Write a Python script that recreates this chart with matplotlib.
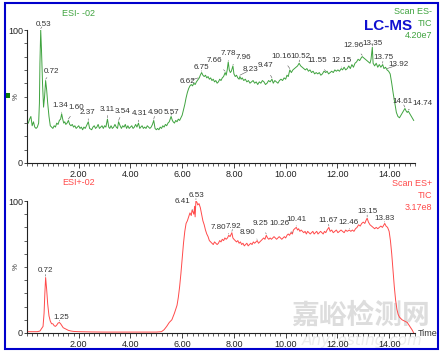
import numpy as np
import matplotlib
matplotlib.use("Agg")
import matplotlib.pyplot as plt
from matplotlib.ticker import MultipleLocator, FixedLocator, FuncFormatter
from matplotlib.patches import Rectangle

# ---------------- data ----------------
neg_t = [0.05, 0.10, 0.15, 0.20, 0.25, 0.30, 0.35, 0.40, 0.45, 0.48, 0.50, 0.53, 0.56, 0.60, 0.64, 0.68,
         0.72, 0.76, 0.80, 0.85, 0.90, 0.95, 1.00, 1.05, 1.10, 1.15, 1.20, 1.25, 1.30, 1.34, 1.38, 1.42,
         1.46, 1.50, 1.55, 1.60, 1.65, 1.70, 1.75, 1.80, 1.85, 1.90, 1.95, 2.00, 2.05, 2.10, 2.15, 2.20,
         2.25, 2.30, 2.37, 2.42, 2.50, 2.55, 2.60, 2.65, 2.70, 2.75, 2.80, 2.85, 2.90, 2.95, 3.00, 3.05,
         3.11, 3.16, 3.20, 3.25, 3.30, 3.35, 3.40, 3.45, 3.50, 3.54, 3.60, 3.65, 3.70, 3.75, 3.80, 3.85,
         3.90, 3.95, 4.00, 4.05, 4.10, 4.15, 4.20, 4.25, 4.31, 4.36, 4.40, 4.45, 4.50, 4.55, 4.60, 4.65,
         4.70, 4.75, 4.80, 4.85, 4.90, 4.95, 5.00, 5.05, 5.10, 5.15, 5.20, 5.25, 5.30, 5.35, 5.40, 5.45,
         5.50, 5.57, 5.62, 5.65, 5.70, 5.75, 5.80, 5.85, 5.90, 5.95, 6.00, 6.05, 6.10, 6.15, 6.20, 6.25,
         6.30, 6.35, 6.40, 6.45, 6.50, 6.55, 6.62, 6.66, 6.70, 6.75, 6.80, 6.85, 6.90, 6.95, 7.00, 7.05,
         7.10, 7.15, 7.20, 7.25, 7.30, 7.35, 7.40, 7.45, 7.50, 7.55, 7.60, 7.66, 7.70, 7.74, 7.78, 7.82,
         7.86, 7.90, 7.96, 8.00, 8.05, 8.10, 8.15, 8.20, 8.23, 8.28, 8.32, 8.38, 8.44, 8.50, 8.56, 8.62,
         8.68, 8.74, 8.80, 8.86, 8.92, 8.98, 9.04, 9.10, 9.16, 9.22, 9.28, 9.34, 9.40, 9.47, 9.52, 9.58,
         9.64, 9.70, 9.76, 9.82, 9.88, 9.94, 10.00, 10.05, 10.10, 10.16, 10.22, 10.28, 10.34, 10.40, 10.46, 10.52,
         10.58, 10.64, 10.70, 10.76, 10.82, 10.88, 10.94, 11.00, 11.06, 11.12, 11.18, 11.24, 11.30, 11.36, 11.42, 11.48,
         11.55, 11.60, 11.66, 11.72, 11.78, 11.84, 11.90, 11.96, 12.02, 12.08, 12.15, 12.20, 12.26, 12.32, 12.38, 12.44,
         12.50, 12.56, 12.62, 12.68, 12.74, 12.80, 12.86, 12.92, 12.96, 13.02, 13.08, 13.14, 13.20, 13.26, 13.30, 13.35,
         13.38, 13.44, 13.50, 13.56, 13.62, 13.68, 13.75, 13.80, 13.86, 13.92, 13.98, 14.04, 14.10, 14.16, 14.22, 14.28,
         14.34, 14.40, 14.46, 14.52, 14.58, 14.61, 14.66, 14.70, 14.74, 14.80, 14.86, 14.92, 14.95]
neg_v = [30, 33, 35, 28, 31, 27, 26, 27, 30, 45, 75, 100, 85, 60, 42, 50,
         62, 55, 45, 35, 28, 27, 26, 28, 27, 30, 29, 32, 33, 37, 33, 30,
         31, 29, 30, 32, 29, 28, 29, 27, 28, 26, 27, 28, 26, 27, 25, 27,
         26, 28, 31, 26, 25, 27, 28, 26, 27, 29, 26, 27, 28, 26, 28, 27,
         33, 27, 26, 28, 26, 27, 29, 27, 26, 31, 28, 26, 28, 27, 29, 26,
         28, 26, 27, 28, 26, 27, 29, 27, 30, 26, 27, 28, 26, 27, 26, 28,
         27, 26, 27, 29, 32, 26, 25, 26, 25, 27, 26, 28, 27, 29, 28, 30,
         31, 35, 32, 31, 30, 32, 31, 33, 32, 34, 36, 40, 44, 49, 53, 56,
         58, 59, 58, 60, 59, 61, 63, 64, 66, 68, 66, 65, 66, 64, 65, 63,
         64, 62, 63, 61, 62, 60, 61, 63, 62, 64, 65, 68, 66, 70, 76, 70,
         68, 69, 73, 67, 65, 66, 64, 63, 65, 63, 64, 62, 63, 61, 62, 60,
         61, 62, 60, 61, 59, 61, 60, 62, 61, 59, 60, 62, 61, 63, 60, 62,
         61, 60, 62, 63, 62, 64, 63, 66, 65, 70, 68, 70, 71, 72, 73, 75,
         73, 72, 71, 70, 71, 69, 70, 68, 69, 67, 68, 67, 68, 66, 67, 69,
         68, 69, 67, 68, 69, 68, 70, 69, 70, 69, 71, 70, 72, 70, 71, 73,
         71, 74, 72, 75, 76, 78, 77, 79, 80, 79, 78, 77, 76, 75, 78, 87,
         75, 73, 75, 72, 74, 72, 74, 71, 72, 70, 69, 67, 60, 52, 45, 38,
         35, 34, 36, 38, 40, 41, 39, 38, 39, 37, 35, 33, 32]

pos_t = [0.05, 0.20, 0.40, 0.50, 0.55, 0.62, 0.66, 0.69, 0.72, 0.76, 0.80, 0.85, 0.90, 0.95, 1.00, 1.05,
         1.10, 1.15, 1.20, 1.25, 1.30, 1.35, 1.40, 1.50, 1.60, 1.70, 1.80, 2.00, 2.50, 3.00, 4.00, 5.00,
         5.20, 5.30, 5.40, 5.50, 5.60, 5.70, 5.80, 5.85, 5.90, 5.95, 6.00, 6.05, 6.10, 6.15, 6.20, 6.25,
         6.30, 6.35, 6.38, 6.41, 6.45, 6.48, 6.50, 6.53, 6.57, 6.60, 6.65, 6.70, 6.75, 6.80, 6.85, 6.90,
         6.95, 7.00, 7.05, 7.10, 7.15, 7.20, 7.25, 7.30, 7.35, 7.40, 7.45, 7.50, 7.55, 7.60, 7.65, 7.70,
         7.75, 7.80, 7.85, 7.92, 7.96, 8.00, 8.05, 8.10, 8.15, 8.20, 8.25, 8.30, 8.35, 8.40, 8.45, 8.50,
         8.55, 8.60, 8.65, 8.70, 8.75, 8.80, 8.85, 8.90, 8.95, 9.00, 9.05, 9.10, 9.15, 9.20, 9.25, 9.30,
         9.35, 9.40, 9.45, 9.50, 9.55, 9.60, 9.65, 9.70, 9.75, 9.80, 9.85, 9.90, 9.95, 10.00, 10.05, 10.10,
         10.15, 10.20, 10.26, 10.30, 10.35, 10.41, 10.46, 10.50, 10.55, 10.60, 10.65, 10.70, 10.75, 10.80, 10.85, 10.90,
         10.95, 11.00, 11.05, 11.10, 11.15, 11.20, 11.25, 11.30, 11.35, 11.40, 11.45, 11.50, 11.55, 11.60, 11.67, 11.72,
         11.78, 11.84, 11.90, 11.96, 12.02, 12.08, 12.14, 12.20, 12.26, 12.32, 12.38, 12.46, 12.52, 12.58, 12.64, 12.70,
         12.76, 12.82, 12.88, 12.94, 13.00, 13.06, 13.10, 13.15, 13.20, 13.26, 13.32, 13.38, 13.44, 13.50, 13.56, 13.62,
         13.68, 13.74, 13.80, 13.83, 13.88, 13.94, 14.00, 14.05, 14.10, 14.15, 14.20, 14.25, 14.30, 14.35, 14.40, 14.50,
         14.60, 14.70, 14.80, 14.90, 14.95]
pos_v = [1, 1, 1, 1.5, 3, 5, 15, 30, 42, 33, 22, 13, 9, 7, 7, 5.5,
         5, 6, 7.5, 8, 7, 5.5, 4, 3, 2, 1.5, 1.2, 1, 0.8, 0.7, 0.7, 0.7,
         1, 2.5, 5, 8, 10, 15, 21, 27, 35, 45, 57, 68, 77, 83, 85, 88,
         91, 89, 93, 92, 90, 96, 88, 100, 99, 97, 98, 95, 90, 85, 82, 78,
         75, 73, 70, 69, 68, 67, 69, 68, 67, 68, 70, 69, 71, 70, 72, 71,
         72, 74, 73, 76, 72, 71, 70, 69, 70, 68, 69, 67, 68, 66, 67, 68,
         66, 67, 68, 67, 69, 68, 69, 70, 68, 69, 70, 71, 72, 71, 74, 72,
         71, 72, 71, 72, 73, 72, 71, 72, 73, 72, 71, 72, 73, 72, 74, 75,
         74, 76, 75, 78, 79, 80, 78, 79, 77, 78, 77, 76, 77, 75, 77, 76,
         75, 76, 77, 75, 76, 77, 75, 76, 77, 76, 75, 77, 76, 78, 80, 77,
         78, 76, 77, 78, 76, 77, 78, 77, 76, 78, 77, 78, 77, 78, 77, 79,
         80, 82, 81, 83, 84, 83, 85, 87, 84, 82, 81, 80, 79, 80, 79, 80,
         81, 80, 82, 83, 81, 80, 77, 70, 60, 47, 35, 25, 18, 14, 12, 10,
         9, 8, 5, 2, 0]

neg_peaks = ["0.53", "0.72", "1.34", "1.60", "2.37", "3.11", "3.54", "4.31", "4.90", "5.57", "6.62", "6.75",
             "7.66", "7.78", "7.96", "8.23", "9.47", "10.16", "10.52", "11.55", "12.15", "12.96", "13.35",
             "13.75", "13.92", "14.61", "14.74"]
pos_peaks = ["0.72", "1.25", "6.41", "6.53", "7.80", "7.92", "8.90", "9.25", "10.26", "10.41", "11.67",
             "12.46", "13.15", "13.83"]

# label text placement (layout offsets, in axis units)
neg_lab_x = [0.65, 0.96, 1.30, 1.92, 2.35, 3.12, 3.70, 4.36, 4.96, 5.59, 6.21, 6.75, 7.25, 7.79, 8.37, 8.64,
             9.22, 9.83, 10.57, 11.22, 12.15, 12.61, 13.34, 13.77, 14.38, 14.50, 15.28]
neg_lab_y = [104.5, 69, 43, 42, 38, 40.5, 39, 37, 37.6, 37.6, 61.6, 72, 76.7, 82, 79, 70,
             73, 80, 80, 77, 77, 88.7, 90, 79, 74, 46, 44.4]
pos_lab_x = [0.73, 1.31, 6.00, 6.54, 7.38, 7.98, 8.52, 9.02, 9.76, 10.41, 11.65, 12.42, 13.15, 13.81]
pos_lab_y = [47, 12, 100, 104.5, 80, 81, 76, 83, 83, 86, 85, 84, 92, 87]

green = "#3fa33f"
red = "#ff4a4a"
FONT = ["Liberation Sans Narrow", "Liberation Sans", "DejaVu Sans"]
plt.rcParams["font.family"] = FONT

fig = plt.figure(figsize=(4.43, 3.54), dpi=100)
W, H = 443.0, 354.0


def make_axes(bottom_px, top_px):
    ax = fig.add_axes([27 / W, 1 - bottom_px / H, (415 - 27) / W, (bottom_px - top_px) / H])
    ax.set_xlim(0, 15)
    ax.set_ylim(0, 100)
    for s in ("top", "right"):
        ax.spines[s].set_visible(False)
    for s in ("left", "bottom"):
        ax.spines[s].set_linewidth(0.8)
        ax.spines[s].set_color("#222222")
    ax.xaxis.set_major_locator(FixedLocator([2, 4, 6, 8, 10, 12, 14]))
    ax.xaxis.set_major_formatter(FuncFormatter(lambda v, p: f"{v:.2f}"))
    ax.xaxis.set_minor_locator(MultipleLocator(0.2))
    ax.yaxis.set_major_locator(FixedLocator([0, 100]))
    ax.yaxis.set_major_formatter(FuncFormatter(lambda v, p: f"{v:.0f}"))
    ax.yaxis.set_minor_locator(MultipleLocator(10))
    ax.tick_params(axis="x", which="major", length=3.5, width=0.6, labelsize=6.5, pad=1.5, colors="#222222")
    ax.tick_params(axis="x", which="minor", length=2.2, width=0.5, colors="#222222")
    ax.tick_params(axis="y", which="major", length=2.5, width=0.6, labelsize=6.5, pad=0.5, colors="#222222")
    ax.tick_params(axis="y", which="minor", length=2, width=0.5, colors="#222222")
    ax.patch.set_alpha(0)
    ax.text(-0.028, 0.5, "%", transform=ax.transAxes, rotation=90, fontsize=5.5,
            ha="center", va="center", color="#333333")
    return ax


ax1 = make_axes(163, 30)
ax2 = make_axes(333, 201)

ax1.plot(neg_t, neg_v, color=green, lw=0.7, zorder=3)
ax2.plot(pos_t, pos_v, color=red, lw=0.7, zorder=3)


def annotate(ax, labels, lx, ly, t, v):
    for lab, x, y in zip(labels, lx, ly):
        pt = float(lab)
        pv = float(np.interp(pt, t, v))
        ax.annotate(lab, xy=(pt, pv + 1), xytext=(x, y), textcoords="data",
                    fontsize=5.8, color="#333333", ha="center", va="center",
                    annotation_clip=False, zorder=4,
                    arrowprops=dict(arrowstyle="-", lw=0.4, color="#555555",
                                    shrinkA=2.5, shrinkB=0))


annotate(ax1, neg_peaks, neg_lab_x, neg_lab_y, neg_t, neg_v)
annotate(ax2, pos_peaks, pos_lab_x, pos_lab_y, pos_t, pos_v)

# header texts
fig.text(79 / W, 1 - 13 / H, "ESI- -02", color=green, fontsize=6.5, ha="center", va="center")
fig.text(432 / W, 1 - 12 / H, "Scan ES-", color=green, fontsize=6.5, ha="right", va="center")
fig.text(432 / W, 1 - 24 / H, "TIC", color=green, fontsize=6.5, ha="right", va="center")
fig.text(432 / W, 1 - 35 / H, "4.20e7", color=green, fontsize=6.5, ha="right", va="center")
fig.text(388 / W, 1 - 26 / H, "LC-MS", color="#1010d0", fontsize=11, fontweight="bold",
         ha="center", va="center", family=["Liberation Sans", "DejaVu Sans"])

fig.text(79 / W, 1 - 183 / H, "ESI+-02", color=red, fontsize=6.5, ha="center", va="center")
fig.text(432 / W, 1 - 184 / H, "Scan ES+", color=red, fontsize=6.5, ha="right", va="center")
fig.text(432 / W, 1 - 196 / H, "TIC", color=red, fontsize=6.5, ha="right", va="center")
fig.text(432 / W, 1 - 208 / H, "3.17e8", color=red, fontsize=6.5, ha="right", va="center")
fig.text(428 / W, 1 - 333 / H, "Time", color="#333333", fontsize=6.5, ha="center", va="center")

# watermark (drawn beneath the axes)
fig.text(361 / W, 1 - 316 / H, "嘉峪检测网", color="#dddddd", fontsize=20, fontweight="bold",
         ha="center", va="center", family=["Noto Sans CJK SC", "DejaVu Sans"], zorder=-1)
fig.text(362 / W, 1 - 341 / H, "AnyTesting.com", color="#ececec", fontsize=11, style="italic",
         ha="center", va="center", family=["DejaVu Sans"], zorder=-1)

# frame & marker
fig.patches.append(Rectangle((5 / W, 1 - 349 / H), 433 / W, 346 / H, transform=fig.transFigure,
                             fill=False, edgecolor="#0000cc", lw=1.5, zorder=10))
fig.patches.append(Rectangle((6 / W, 1 - 98 / H), 3.5 / W, 5 / H, transform=fig.transFigure,
                             facecolor="#0a7a0a", edgecolor="none", zorder=10))

fig.savefig("out.png", dpi=100)
